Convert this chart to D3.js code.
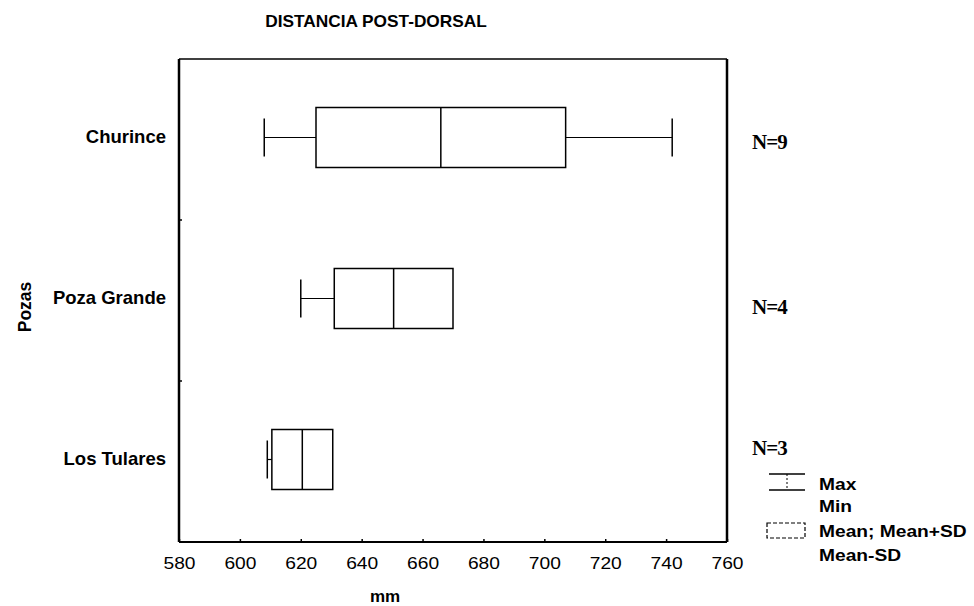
<!DOCTYPE html>
<html>
<head>
<meta charset="utf-8">
<script src="https://cdn.jsdelivr.net/npm/d3@7"></script>
<style>
  html, body { margin: 0; padding: 0; background: #fff; }
  svg { display: block; }
  text { font-family: "Liberation Sans", Arial, sans-serif; fill: #000; }
</style>
</head>
<body>
<svg id="chart" width="974" height="606"></svg>
<script>
// ---- data ----
const title = "DISTANCIA POST-DORSAL";
const xLabel = "mm";
const yLabel = "Pozas";
const categories = ["Churince", "Poza Grande", "Los Tulares"];
const meanVals = [666, 650.5, 620.5];
const sdVals = [41, 19.5, 10];
const minVals = [608, 620, 609];
const maxVals = [742, 670, 630.5];
const nVals = [9, 4, 3];
const xTicks = [580, 600, 620, 640, 660, 680, 700, 720, 740, 760];
const legendLabels = [["Max", "Min"], ["Mean; Mean+SD", "Mean-SD"]];

// ---- layout ----
const W = 974, H = 606;
const plot = { left: 179, right: 727, top: 59, bottom: 542 };
const nLabelDy = [2, 6, -14];

const svg = d3.select("#chart");

const x = d3.scaleLinear().domain([580, 760]).range([plot.left, plot.right]);
const y = d3.scaleBand().domain(categories).range([plot.top, plot.bottom]).paddingInner(0).paddingOuter(0);
const boxH = 60;
const capH = 38;

// Title
svg.append("text").attr("x", 376).attr("y", 27)
  .attr("text-anchor", "middle").attr("font-size", 16).attr("font-weight", "bold")
  .attr("transform", "translate(376,0) scale(1.08,1) translate(-376,0)")
  .text(title);

// Boxes and whiskers
const g = svg.append("g");
categories.forEach((c, i) => {
  const cy = y(c) + y.bandwidth() / 2 - 2;
  const lo = meanVals[i] - sdVals[i];
  const hi = meanVals[i] + sdVals[i];
  if (minVals[i] < lo) {
    g.append("line").attr("x1", x(minVals[i])).attr("x2", x(lo))
      .attr("y1", cy).attr("y2", cy).attr("stroke", "#000").attr("stroke-width", 1.2);
    g.append("line").attr("x1", x(minVals[i])).attr("x2", x(minVals[i]))
      .attr("y1", cy - capH / 2).attr("y2", cy + capH / 2).attr("stroke", "#000").attr("stroke-width", 1.5);
  }
  if (maxVals[i] > hi) {
    g.append("line").attr("x1", x(hi)).attr("x2", x(maxVals[i]))
      .attr("y1", cy).attr("y2", cy).attr("stroke", "#000").attr("stroke-width", 1.2);
    g.append("line").attr("x1", x(maxVals[i])).attr("x2", x(maxVals[i]))
      .attr("y1", cy - capH / 2).attr("y2", cy + capH / 2).attr("stroke", "#000").attr("stroke-width", 1.5);
  }
  g.append("rect").attr("x", x(lo)).attr("y", cy - boxH / 2)
    .attr("width", x(hi) - x(lo)).attr("height", boxH)
    .attr("fill", "none").attr("stroke", "#000").attr("stroke-width", 1.5);
  g.append("line").attr("x1", x(meanVals[i])).attr("x2", x(meanVals[i]))
    .attr("y1", cy - boxH / 2).attr("y2", cy + boxH / 2).attr("stroke", "#000").attr("stroke-width", 1.5);
  svg.append("text").attr("x", 752).attr("y", cy + 9 + nLabelDy[i])
    .attr("font-size", 21).attr("font-weight", "bold")
    .attr("letter-spacing", -1)
    .style("font-family", "'Liberation Serif', 'Times New Roman', serif")
    .text("N=" + nVals[i]);
});

// Frame
const frame = svg.append("g").attr("stroke", "#000").attr("fill", "none");
frame.append("line").attr("x1", plot.left).attr("x2", plot.right).attr("y1", plot.top).attr("y2", plot.top).attr("stroke-width", 1.5);
frame.append("line").attr("x1", plot.left).attr("x2", plot.right).attr("y1", plot.bottom).attr("y2", plot.bottom).attr("stroke-width", 2);
frame.append("line").attr("x1", plot.left).attr("x2", plot.left).attr("y1", plot.top).attr("y2", plot.bottom).attr("stroke-width", 2.5);
frame.append("line").attr("x1", plot.right).attr("x2", plot.right).attr("y1", plot.top).attr("y2", plot.bottom).attr("stroke-width", 2.5);

// X axis
const xAxis = d3.axisBottom(x).tickValues(xTicks).tickSizeInner(-3).tickSizeOuter(0).tickPadding(16);
const xg = svg.append("g").attr("transform", `translate(0,${plot.bottom})`).call(xAxis);
xg.select(".domain").remove();
xg.selectAll(".tick line").attr("stroke", "#000").attr("stroke-width", 1.5);
xg.selectAll(".tick text").attr("font-size", 16).attr("fill", "#000")
  .attr("font-family", "'Liberation Sans', Arial, sans-serif")
  .attr("transform", "scale(1.2,1)");

// Y axis
const yAxis = d3.axisLeft(y).tickSize(0).tickPadding(13);
const yg = svg.append("g").attr("transform", `translate(${plot.left},-2)`).call(yAxis);
yg.select(".domain").remove();
yg.selectAll(".tick text").attr("font-size", 18.5).attr("font-weight", "bold").attr("fill", "#000")
  .attr("font-family", "'Liberation Sans', Arial, sans-serif");
svg.append("g").selectAll("line").data(categories.slice(1)).join("line")
  .attr("x1", plot.left).attr("x2", plot.left + 3)
  .attr("y1", d => y(d)).attr("y2", d => y(d))
  .attr("stroke", "#000").attr("stroke-width", 1.5);

// Axis titles
svg.append("text").attr("x", 385).attr("y", 602).attr("text-anchor", "middle")
  .attr("font-size", 17).attr("font-weight", "bold").text(xLabel);
svg.append("text").attr("transform", "translate(31,307) rotate(-90)")
  .attr("text-anchor", "middle").attr("font-size", 17.5).attr("font-weight", "bold").text(yLabel);

// Legend
const lg = svg.append("g");
lg.append("line").attr("x1", 769).attr("x2", 805).attr("y1", 474).attr("y2", 474).attr("stroke", "#000").attr("stroke-width", 1.5);
lg.append("line").attr("x1", 769).attr("x2", 805).attr("y1", 490).attr("y2", 490).attr("stroke", "#000").attr("stroke-width", 1.5);
lg.append("line").attr("x1", 787).attr("x2", 787).attr("y1", 474).attr("y2", 490).attr("stroke", "#000").attr("stroke-width", 1).attr("stroke-dasharray", "2,2");
lg.append("rect").attr("x", 767).attr("y", 523).attr("width", 38).attr("height", 15)
  .attr("fill", "none").attr("stroke", "#000").attr("stroke-width", 1.2).attr("stroke-dasharray", "4,2");
const legY = [[490, 512], [537, 561]];
legendLabels.forEach((pair, i) => {
  pair.forEach((t, j) => {
    lg.append("text").attr("x", 819).attr("y", legY[i][j])
      .attr("font-size", 16).attr("font-weight", "bold")
      .attr("transform", "translate(819,0) scale(1.2,1) translate(-819,0)")
      .text(t);
  });
});
</script>
</body>
</html>
